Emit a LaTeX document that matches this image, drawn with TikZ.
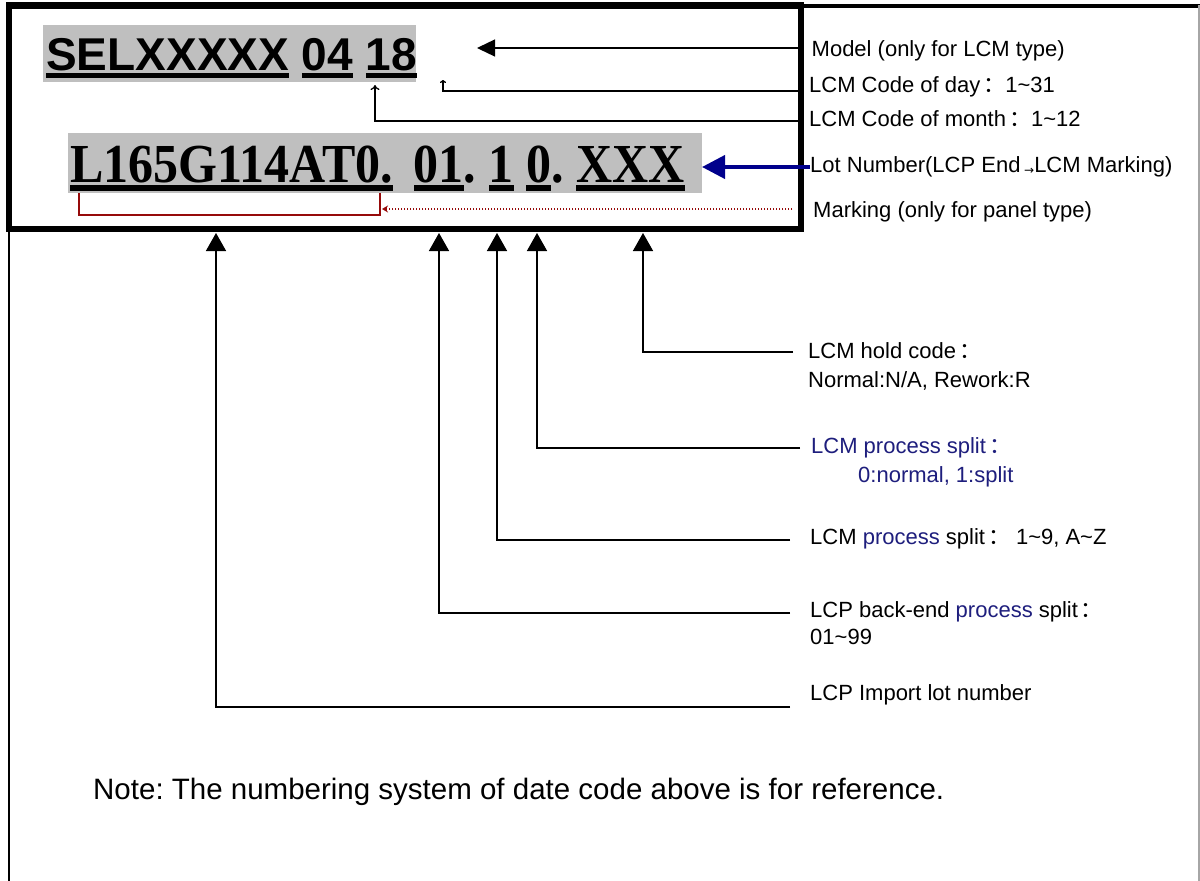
\documentclass[tikz,border=0pt]{standalone}
\usepackage{fontspec}
\setmainfont{Liberation Sans}
\newfontfamily\timesfont{Liberation Serif}
\newfontfamily\cjkfont{Noto Sans CJK SC}
\newfontfamily\symfont{DejaVu Sans}
\usetikzlibrary{arrows.meta}
\frenchspacing

\definecolor{codegray}{RGB}{191,191,191}
\definecolor{navyline}{RGB}{0,0,140}
\definecolor{navytext}{RGB}{30,30,125}
\definecolor{markred}{RGB}{150,10,10}

% full-width colon and tilde
\newcommand{\fwcolon}{\hspace{3pt}{\cjkfont ：}}
\newcommand{\tld}{\textasciitilde}
% thick underline: #1 gap below baseline, #2 thickness, #3 text
\newcommand{\barunder}[3]{\setbox0\hbox{#3}\rlap{\rule[-\dimexpr#1+#2\relax]{\wd0}{#2}}\box0\relax}

\begin{document}
\begin{tikzpicture}[x=1pt,y=-1pt,
  lbl/.style={anchor=base west, inner sep=0pt, font=\fontsize{22}{24}\selectfont},
  conn/.style={line width=1.5pt},
  thinconn/.style={line width=1.3pt},
  uparrow/.style={conn, -{Triangle[width=20pt,length=18pt]}},
  ]
\useasboundingbox (0,0) rectangle (1200,881);
\fill[white] (0,0) rectangle (1200,881);

% grey bands behind the two code lines
\fill[codegray] (43,25) rectangle (416,82);
\fill[codegray] (68,133) rectangle (702,193);

% code box
\node[draw, line width=6.5pt, outer sep=0pt, inner sep=0pt,
      minimum width=792pt, minimum height=223.5pt, anchor=north west]
      (codebox) at (9,5.5) {};

% outer frame
\draw[line width=4pt] (codebox.north east) -- (1200,5.5);
\draw[line width=2.5pt] (codebox.south west) -- (9,881);
\draw[black!35, line width=1.5pt] (1199,5) -- (1199,881);

% code lines
\node[anchor=base west, inner sep=0pt, font=\fontsize{46}{46}\selectfont\bfseries]
  (modelcode) at (46,70)
  {\barunder{3pt}{4.5pt}{SELXXXXX} \barunder{3pt}{4.5pt}{04} \barunder{3pt}{4.5pt}{18}};
\node[anchor=base west, inner sep=0pt, font=\timesfont\bfseries\fontsize{50}{50}\selectfont]
  (lotcode) at (70,182)
  {\scalebox{1}[1.1]{\barunder{2.7pt}{5.8pt}{L165G114AT0.}\hspace{21pt}\barunder{2.7pt}{5.8pt}{01}.\ \barunder{2.7pt}{5.8pt}{1}\ \barunder{2.7pt}{5.8pt}{0}.\ \barunder{2.7pt}{5.8pt}{XXX}}};

% labels on the right of the box
\node[lbl] (lblmodel) at (811.5,56) {Model (only for LCM type)};
\node[lbl] (lblday) at (809,92.5) {LCM Code of day\fwcolon1\tld31};
\node[lbl] (lblmonth) at (809,126) {LCM Code of month\fwcolon1\tld12};
\node[lbl] (lbllot) at (810,172.5) {Lot Number(LCP End\,{\symfont\fontsize{12}{12}\selectfont\raisebox{-1.5pt}{→}}LCM Marking)};
\node[lbl] (lblmark) at (813,217) {Marking (only for panel type)};

% top connectors
\coordinate (modeltip) at (477,48);
\draw[thinconn, -{Triangle[width=17pt,length=18pt]}] (codebox.east |- modeltip) -- (modeltip);

\coordinate (dayline) at (443,91);
\coordinate (daytip) at (443,80);
\draw[thinconn, -{To[length=3pt,width=6pt]}] (codebox.east |- dayline) -- (dayline) -- (daytip);

\coordinate (monthbend) at (375,121);
\coordinate (monthtip) at (375,85);
\draw[thinconn, -{To[length=5pt,width=9pt]}] (codebox.east |- monthbend) -- (monthbend) -- (monthtip);

\coordinate (lottip) at (702,167);
\draw[navyline, line width=4pt, -{Triangle[width=23pt,length=23pt]}] (lbllot.west |- lottip) -- (lottip);

\coordinate (markstart) at (792,209);
\coordinate (marktip) at (382,209);
\draw[markred, line width=1.5pt, dash pattern=on 1.5pt off 1.5pt, -{Stealth[length=6pt,width=7pt]}] (markstart) -- (marktip);
\draw[markred, line width=2pt] (79,193) -- (79,215) -- (380,215) -- (380,193);

% lower labels
\node[lbl] (lblhold) at (808,358) {LCM hold code\fwcolon};
\node[lbl] (lblhold2) at (808,387) {Normal:N/A, Rework:R};
\node[lbl, text=navytext] (lblsplit) at (811,453) {LCM process split\fwcolon};
\node[lbl, text=navytext] (lblsplit2) at (858,482) {0:normal, 1:split};
\node[lbl] (lblsub) at (810,544) {LCM {\color{navytext}process} split\fwcolon\hspace{6pt}1\tld9, A\tld Z};
\node[lbl] (lblback) at (810,617) {LCP back-end {\color{navytext}process} split\fwcolon};
\node[lbl] (lblback2) at (810,644) {01\tld99};
\node[lbl] (lblimport) at (810,700) {LCP Import lot number};

% lower connectors
\coordinate (tiphold) at (643,233);
\coordinate (endhold) at (793,352);
\draw[uparrow] (endhold) -| (tiphold);

\coordinate (tipsplit) at (537,233);
\coordinate (endsplit) at (800,448);
\draw[uparrow] (endsplit) -| (tipsplit);

\coordinate (tipsub) at (497,233);
\coordinate (endsub) at (790,540);
\draw[uparrow] (endsub) -| (tipsub);

\coordinate (tipback) at (439,233);
\coordinate (endback) at (790,613);
\draw[uparrow] (endback) -| (tipback);

\coordinate (tipimport) at (216,233);
\coordinate (endimport) at (790,707);
\draw[uparrow] (endimport) -| (tipimport);

% note
\node[anchor=base west, inner sep=0pt, font=\fontsize{29.5}{32}\selectfont]
  (note) at (93,799) {Note: The numbering system of date code above is for reference.};
\end{tikzpicture}
\end{document}
